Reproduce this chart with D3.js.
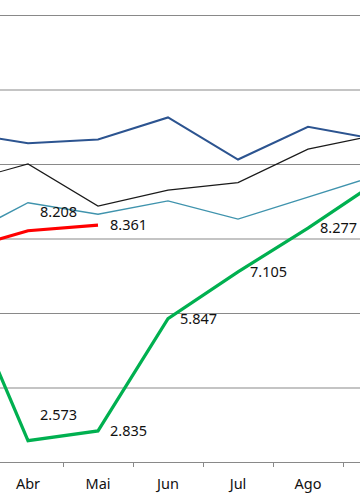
<!DOCTYPE html>
<html>
<head>
<meta charset="utf-8">
<script src="https://cdn.jsdelivr.net/npm/d3@7"></script>
<style>
  html, body { margin: 0; padding: 0; background: #fff; }
  svg { display: block; }
  text { font-family: "Noto Sans", "Open Sans", sans-serif; }
</style>
</head>
<body>
<svg id="chart" width="360" height="504"></svg>
<script>
// ---- data (visible window of a longer monthly chart) ----
const months = ["Mar", "Abr", "Mai", "Jun", "Jul", "Ago", "Set"];
const darkBlue = [10.86, 10.56, 10.66, 11.25, 10.12, 11.00, 10.66];
const black    = [9.48, 10.00, 8.87, 9.30, 9.50, 10.40, 10.79];
const teal     = [7.98, 8.96, 8.65, 9.01, 8.52, 9.11, 9.70];
const red      = [7.66, 8.208, 8.361, null, null, null, null];
const green    = [6.99, 2.573, 2.835, 5.847, 7.105, 8.277, 9.54];
const yTicks   = [2, 4, 6, 8, 10, 12, 14];
// labelled points: [series, month index]
const redLabels   = [1, 2];
const greenLabels = [1, 2, 3, 4, 5];

// ---- layout ----
const svg = d3.select("#chart");
const W = 360, H = 504;
const x = d3.scaleBand().domain(months).range([-77, 413]).padding(0);
const y = d3.scaleLinear().domain([2, 14]).range([462, 15]);
const cx = m => x(m) + x.bandwidth() / 2;

// gridlines
const grid = svg.append("g")
  .call(d3.axisLeft(y).tickValues(yTicks.slice(1)).tickSize(-(413 + 77)).tickFormat(""))
  .attr("transform", "translate(-77,0)");
grid.select(".domain").remove();
grid.selectAll(".tick line").attr("stroke", "#898989").attr("stroke-width", 1);

// x axis (labels only for months whose label lies inside the window)
const xAxis = svg.append("g")
  .attr("transform", `translate(0,${y(2)})`)
  .call(d3.axisBottom(x).tickSize(0).tickPadding(17)
    .tickFormat(m => (cx(m) - 16 >= 0 && cx(m) + 16 <= W) ? m : ""));
xAxis.select(".domain").attr("stroke", "#898989").attr("stroke-width", 1);
xAxis.selectAll(".tick text").attr("font-size", "14.5px").attr("fill", "#111").attr("font-family", "'Noto Sans', sans-serif");
// tick marks between categories
svg.append("g").selectAll("line").data(months.concat(["_end"]))
  .join("line")
  .attr("x1", (d, i) => i < months.length ? x(d) + 0.5 : x(months[months.length - 1]) + x.bandwidth() + 0.5)
  .attr("x2", (d, i) => i < months.length ? x(d) + 0.5 : x(months[months.length - 1]) + x.bandwidth() + 0.5)
  .attr("y1", y(2)).attr("y2", y(2) + 5)
  .attr("stroke", "#898989").attr("stroke-width", 1);

// lines
const line = d3.line()
  .defined(d => d.v !== null)
  .x(d => cx(d.m))
  .y(d => y(d.v));
const series = [
  { vals: darkBlue, color: "#2c5490", width: 2 },
  { vals: black,    color: "#1a1a1a", width: 1.2 },
  { vals: teal,     color: "#3f93ad", width: 1.4 },
  { vals: red,      color: "#ff0000", width: 3.2 },
  { vals: green,    color: "#00b050", width: 3.2 }
];
series.forEach(s => {
  svg.append("path")
    .datum(s.vals.map((v, i) => ({ m: months[i], v })))
    .attr("d", line)
    .attr("fill", "none")
    .attr("stroke", s.color)
    .attr("stroke-width", s.width)
    .attr("stroke-linejoin", "miter");
});

// data labels
const fmt = d3.format(".3f");
const lift = { "red-1": -19, "green-1": -26 };
function addLabels(vals, idx, key) {
  svg.append("g").selectAll("text").data(idx).join("text")
    .attr("x", i => cx(months[i]) + 12)
    .attr("y", i => y(vals[i]) + (lift[key + "-" + i] || 0))
    .attr("dy", "0.36em")
    .attr("font-size", "14.5px")
    .attr("fill", "#111")
    .text(i => fmt(vals[i]));
}
addLabels(red, redLabels, "red");
addLabels(green, greenLabels, "green");
</script>
</body>
</html>
